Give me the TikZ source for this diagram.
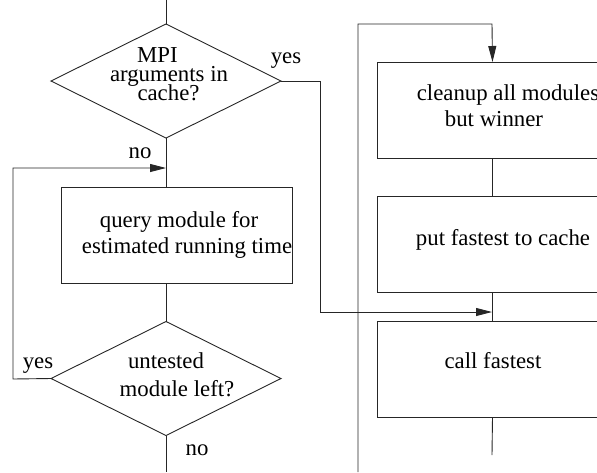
\documentclass[tikz,border=0pt]{standalone}
\usepackage{fontspec}
\setmainfont{Liberation Serif}
\usetikzlibrary{shapes.geometric,arrows.meta}
\begin{document}
\begin{tikzpicture}[x=1pt,y=-1pt,
  conn/.style={line width=0.9pt, draw=black!85},
  decision/.style={diamond, draw=black!85, line width=0.9pt, minimum width=230pt, minimum height=114pt, inner sep=0pt, outer sep=0pt},
  stepbox/.style={rectangle, draw=black!85, line width=0.9pt, minimum width=231pt, minimum height=96pt, inner sep=0pt, outer sep=0pt},
  txt/.style={anchor=base, inner sep=0pt, outer sep=0pt, font=\fontsize{22.8}{27}\selectfont},
  arr/.style={conn, -{Triangle[length=16pt,width=8pt]}}]
\useasboundingbox (0,0) rectangle (597,472);
\clip (0,0) rectangle (597,472);
% shapes
\node[decision] (d1) at (166,81) {};
\node[stepbox] (q) at (176.5,235) {};
\node[decision] (d2) at (166,378.5) {};
\node[stepbox] (cl) at (492.5,110) {};
\node[stepbox] (pf) at (492.5,244) {};
\node[stepbox] (cf) at (492.5,369) {};
% texts
\node[txt] (t1a) at (157.5,62.5) {MPI};
\node[txt] (t1b) at (169,81.5) {arguments in};
\node[txt] (t1c) at (168.5,100) {cache?};
\node[txt] (y1) at (286,63) {yes};
\node[txt] (n1) at (140,158) {no};
\node[txt] (tqa) at (179,227) {query module for};
\node[txt] (tqb) at (187,253) {estimated running time};
\node[txt] (t2a) at (166,368) {untested};
\node[txt] (t2b) at (177,396.5) {module left?};
\node[txt] (y2) at (38,368) {yes};
\node[txt] (n2) at (197,455) {no};
\node[txt] (tca) at (508,100) {cleanup all modules};
\node[txt] (tcb) at (494,126.5) {but winner};
\node[txt] (tpf) at (503,245) {put fastest to cache};
\node[txt] (tcf) at (493,368) {call fastest};
% coordinates
\coordinate (top) at (166,0);
\coordinate (yesR) at (320,81);
\coordinate (j1) at (492,312);
\coordinate (j2) at (166,168);
\coordinate (loopL) at (13,379);
\coordinate (bot1) at (166,472);
\coordinate (r1) at (358,472);
\coordinate (r2) at (492,24);
\coordinate (endR) at (492,455);
% connectors
\draw[conn] (top) -- (d1.north);
\draw[conn] (d1.south) -- (d1.south |- q.north);
\draw[conn] (d2.north |- q.south) -- (d2.north);
\draw[conn] (d2.south) -- (bot1);
\draw[arr] (d1.east) -- (yesR) |- (j1);
\draw[arr] (d2.west) -- (loopL) |- (j2);
\draw[arr] (r1) |- (r2) -- (cl.north);
\draw[conn] (cl.south) -- (pf.north);
\draw[conn] (pf.south) -- (cf.north);
\draw[conn] (cf.south) -- (endR);
\end{tikzpicture}
\end{document}
